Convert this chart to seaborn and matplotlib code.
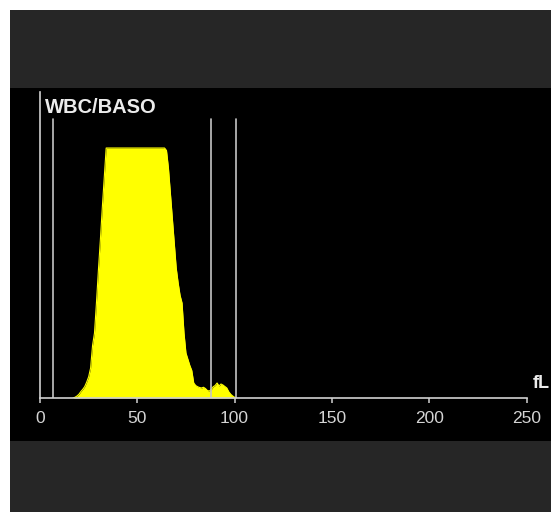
import numpy as np
import pandas as pd
import matplotlib
matplotlib.use("Agg")
import matplotlib.pyplot as plt
from matplotlib.patches import Rectangle
import seaborn as sns

# ---- data ----
volume_fl = list(range(17, 102))
counts = [
    0.0, 0.3, 0.8, 1.5, 2.6, 3.5, 4.6, 6.4, 8.5, 12.0,          # 17-26
    21.0, 26.0, 38.0, 51.0, 63.0, 76.0, 88.0, 100.0,              # 27-34
    100, 100, 100, 100, 100, 100, 100, 100, 100, 100,             # 35-44
    100, 100, 100, 100, 100, 100, 100, 100, 100, 100,             # 45-54
    100, 100, 100, 100, 100, 100, 100, 100, 100, 100,             # 55-64
    99.0, 92.0, 82.0, 72.0, 62.0, 52.0, 46.0, 41.0, 38.0, 26.0,   # 65-74
    18.0, 15.5, 13.0, 11.0, 6.0, 5.0, 4.5, 4.2, 4.0, 4.3,         # 75-84
    3.8, 3.0, 2.8, 3.4, 4.5, 5.0, 6.0, 4.8, 5.6, 5.2,             # 85-94
    4.6, 4.0, 2.5, 1.5, 0.8, 0.3, 0.0,                            # 95-101
]
discriminators = [6.5, 88.0, 100.5]
x_ticks = [0, 50, 100, 150, 200, 250]
title_text = "WBC/BASO"
unit_text = "fL"

df = pd.DataFrame({"fL": volume_fl, "count": counts})

# ---- style ----
sns.set_theme(style="white")
plt.rcParams["font.family"] = ["Liberation Sans", "DejaVu Sans"]

W, H = 551, 512
fig = plt.figure(figsize=(W / 100, H / 100), dpi=100)
fig.patch.set_facecolor("white")

# panel backgrounds
fig.add_artist(Rectangle((10 / W, 0), 1 - 10 / W, (H - 10) / H,
                         transform=fig.transFigure, facecolor="#262626",
                         edgecolor="none", zorder=0))
fig.add_artist(Rectangle((10 / W, (H - 441) / H), 1 - 10 / W, (441 - 88) / H,
                         transform=fig.transFigure, facecolor="#000000",
                         edgecolor="none", zorder=0))

ax = fig.add_axes([40 / W, (H - 398) / H, 486.5 / W, 306 / H])
ax.patch.set_visible(False)

yellow = "#ffff00"
ax.fill_between(df["fL"], df["count"], 0, color=yellow, linewidth=0, zorder=2)
sns.lineplot(data=df, x="fL", y="count", ax=ax, color=yellow, linewidth=0.8, zorder=3)

for d in discriminators:
    ax.axvline(d, ymin=0, ymax=0.912, color="#c4c4c4", linewidth=1.2, zorder=4)

ax.set_xlim(0, 250)
ax.set_ylim(0, 122.4)
ax.set_xticks(x_ticks)
ax.set_xticklabels([str(t) for t in x_ticks])
ax.set_yticks([])
ax.set_xlabel("")
ax.set_ylabel("")

for s in ["top", "right"]:
    ax.spines[s].set_visible(False)
for s in ["left", "bottom"]:
    ax.spines[s].set_visible(True)
    ax.spines[s].set_color("#d0d0d0")
    ax.spines[s].set_linewidth(1.2)
    ax.spines[s].set_zorder(5)

ax.tick_params(axis="x", colors="#d0d0d0", direction="out", length=3.5, width=1.1,
               pad=6, labelsize=12.5, labelcolor="#d4d4d4", bottom=True)

fig.text(45 / W, (H - 113) / H, title_text, color="#ececec", fontsize=14.5,
         fontweight="bold", va="baseline", ha="left")
fig.text(533 / W, (H - 388) / H, unit_text, color="#ececec", fontsize=13,
         fontweight="bold", va="baseline", ha="left")

fig.savefig("out.png", dpi=100, facecolor=fig.get_facecolor())
